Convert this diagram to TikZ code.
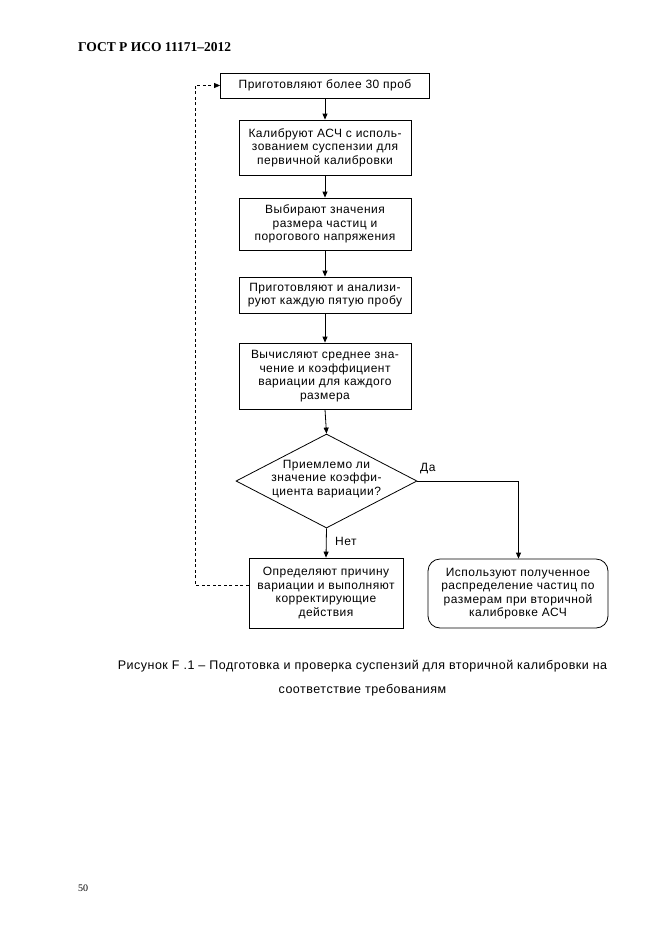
\documentclass[tikz,border=0pt]{standalone}
\usepackage{fontspec}
\setmainfont{Liberation Sans}[LetterSpace=4]
\newfontfamily\hdrfont{Liberation Serif}
\usetikzlibrary{shapes.geometric,arrows.meta}
\begin{document}
\begin{tikzpicture}[x=1pt,y=-1pt,
  every node/.style={font=\fontsize{12}{13.5}\selectfont},
  blk/.style={draw, line width=0.8pt, inner sep=0pt, align=center},
  decision/.style={draw, line width=0.8pt, shape=diamond, inner sep=0pt, minimum width=181pt, minimum height=94pt, aspect=1.93},
  arr/.style={line width=0.8pt, -{Triangle[length=6pt,width=5pt]}},
  dsh/.style={line width=0.7pt, dash pattern=on 3pt off 2.5pt, -{Triangle[length=6pt,width=5pt]}},
  lbl/.style={inner sep=0pt},
  captiontext/.style={inner sep=0pt, font=\fontsize{12.5}{14}\selectfont}]
\useasboundingbox (0,0) rectangle (661,935);
\fill[white] (0,0) rectangle (661,935);
\node[lbl, anchor=base west, font=\hdrfont\bfseries\fontsize{13.5}{15}\selectfont] (hdr) at (78,51) {ГОСТ Р ИСО 11171–2012};
\node[blk, minimum width=209pt, minimum height=25pt] (b1) at (325,85.5) {Приготовляют более 30 проб};
\node[blk, minimum width=172pt, minimum height=55pt] (b2) at (325,147.5) {Калибруют АСЧ с исполь-\\зованием суспензии для\\первичной калибровки};
\node[blk, minimum width=172pt, minimum height=52pt] (b3) at (325,224) {Выбирают значения\\размера частиц и\\порогового напряжения};
\node[blk, minimum width=172pt, minimum height=36pt] (b4) at (325,295) {Приготовляют и анализи-\\руют каждую пятую пробу};
\node[blk, minimum width=172pt, minimum height=66pt] (b5) at (325,376) {Вычисляют среднее зна-\\чение и коэффициент\\вариации для каждого\\размера};
\node[decision] (d) at (326.5,481) {};
\node[lbl, align=center] (dt) at (326.5,479) {Приемлемо ли\\значение коэффи-\\циента вариации?};
\node[blk, minimum width=154pt, minimum height=70pt] (b6) at (326,593) {Определяют причину\\вариации и выполняют\\корректирующие\\действия};
\node[blk, rounded corners=12pt, minimum width=180pt, minimum height=69pt] (b7) at (518,593.5) {Используют полученное\\распределение частиц по\\размерам при вторичной\\калибровке АСЧ};
\coordinate (loop) at (195,585);
\coordinate (turn) at (518.5,481);
\draw[arr] (b1) -- (b2);
\draw[arr] (b2) -- (b3);
\draw[arr] (b3) -- (b4);
\draw[arr] (b4) -- (b5);
\draw[arr] (b5.south) -- (d.north);
\draw[arr] (d.south) -- (b6.north);
\draw[arr] (d.east) -- (turn) -- (turn |- b7.north);
\draw[dsh] ([yshift=8pt]b6.west) -- (loop) |- (b1.west);
\node[lbl, anchor=west] (yes) at (420,469) {Да};
\node[lbl, anchor=west] (no) at (335,541) {Нет};
\node[captiontext] (cap1) at (362.5,666) {Рисунок F .1 – Подготовка и проверка суспензий для вторичной калибровки на};
\node[captiontext] (cap2) at (362.5,690) {соответствие требованиям};
\node[lbl, anchor=base west, font=\hdrfont\fontsize{10}{12}\selectfont] (pg) at (78,891) {50};
\end{tikzpicture}
\end{document}
